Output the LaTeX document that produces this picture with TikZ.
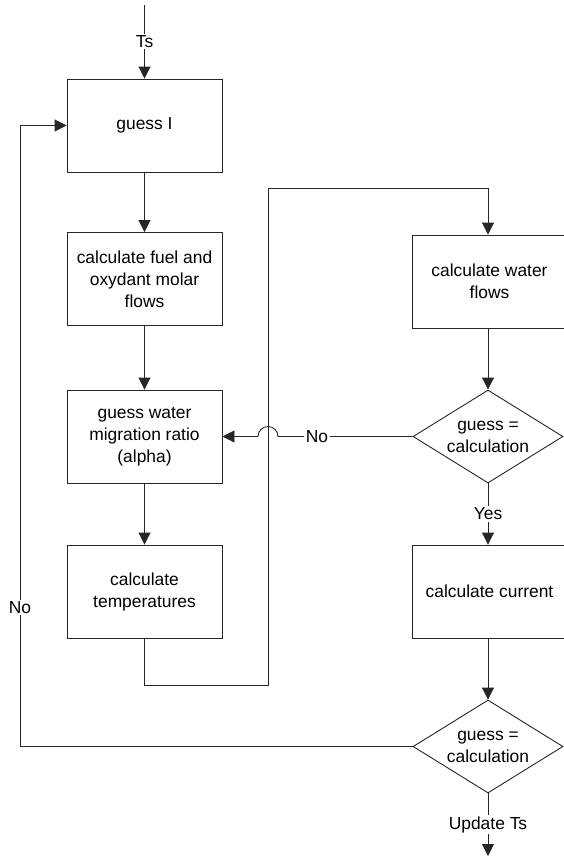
\documentclass[tikz,border=0pt]{standalone}
\usepackage{fontspec}
\setmainfont{Liberation Sans}
\usetikzlibrary{shapes.geometric,arrows.meta}
\begin{document}
\begin{tikzpicture}[x=1pt,y=-1pt,
  every node/.style={font=\fontsize{17.4}{22}\selectfont},
  procbox/.style={draw=black!85,line width=0.9pt,minimum width=155pt,minimum height=93pt,align=center,inner sep=2pt},
  decbox/.style={draw=black!85,line width=0.9pt,diamond,aspect=1.613,minimum width=150pt,minimum height=93pt,inner sep=0pt,align=center},
  conn/.style={draw=black!85,line width=0.9pt},
  arr/.style={conn,-{Triangle[width=12pt,length=12pt]}},
  lbl/.style={fill=white,inner sep=1.5pt}]
\clip (0,0) rectangle (564,857);
\fill[white] (0,0) rectangle (564,857);
% left column
\node[procbox] (b1) at (144.5,125.5) {guess I};
\node[procbox] (b2) at (144.5,279) {calculate fuel and\\oxydant molar\\flows};
\node[procbox] (b3) at (144.5,436.5) {guess water\\migration ratio\\(alpha)};
\node[procbox] (b4) at (144.5,591.5) {calculate\\temperatures};
% right column
\node[procbox] (r1) at (489.5,281.5) {calculate water\\flows};
\node[decbox] (d1) at (488,436.5) {guess =\\calculation};
\node[procbox] (r2) at (489.5,591.5) {calculate current};
\node[decbox] (d2) at (488,746.5) {guess =\\calculation};
% free ends
\coordinate (top) at (144.5,5);
\coordinate (bot) at (488,856);
\coordinate (t1) at (144.5,685);
\coordinate (t2) at (268,685);
\coordinate (t3) at (268,188);
\coordinate (t4) at (488,188);
\coordinate (hopR) at (278,436.5);
\coordinate (lx) at (20,125.5);
% connectors
\draw[arr] (top) -- node[lbl]{Ts} (b1.north);
\draw[arr] (b1.south) -- (b2.north);
\draw[arr] (b2.south) -- (b3.north);
\draw[arr] (b3.south) -- (b4.north);
\draw[arr] (b4.south) -- (t1) -- (t2) -- (t3) -- (t4) -- (t4 |- r1.north);
\draw[arr] (r1.south -| d1.north) -- (d1.north);
\draw[arr] (d1.west) -- node[lbl,pos=0.71]{No} (hopR) arc[start angle=0,end angle=-180,radius=10] -- (b3.east);
\draw[arr] (d1.south) -- node[lbl]{Yes} (d1.south |- r2.north);
\draw[arr] (d1.south |- r2.south) -- (d2.north);
\draw[arr] (d2.west) -| node[lbl,pos=0.612]{No} (lx) -- (b1.west);
\draw[arr] (d2.south) -- node[lbl]{Update Ts} (bot);
\end{tikzpicture}
\end{document}
